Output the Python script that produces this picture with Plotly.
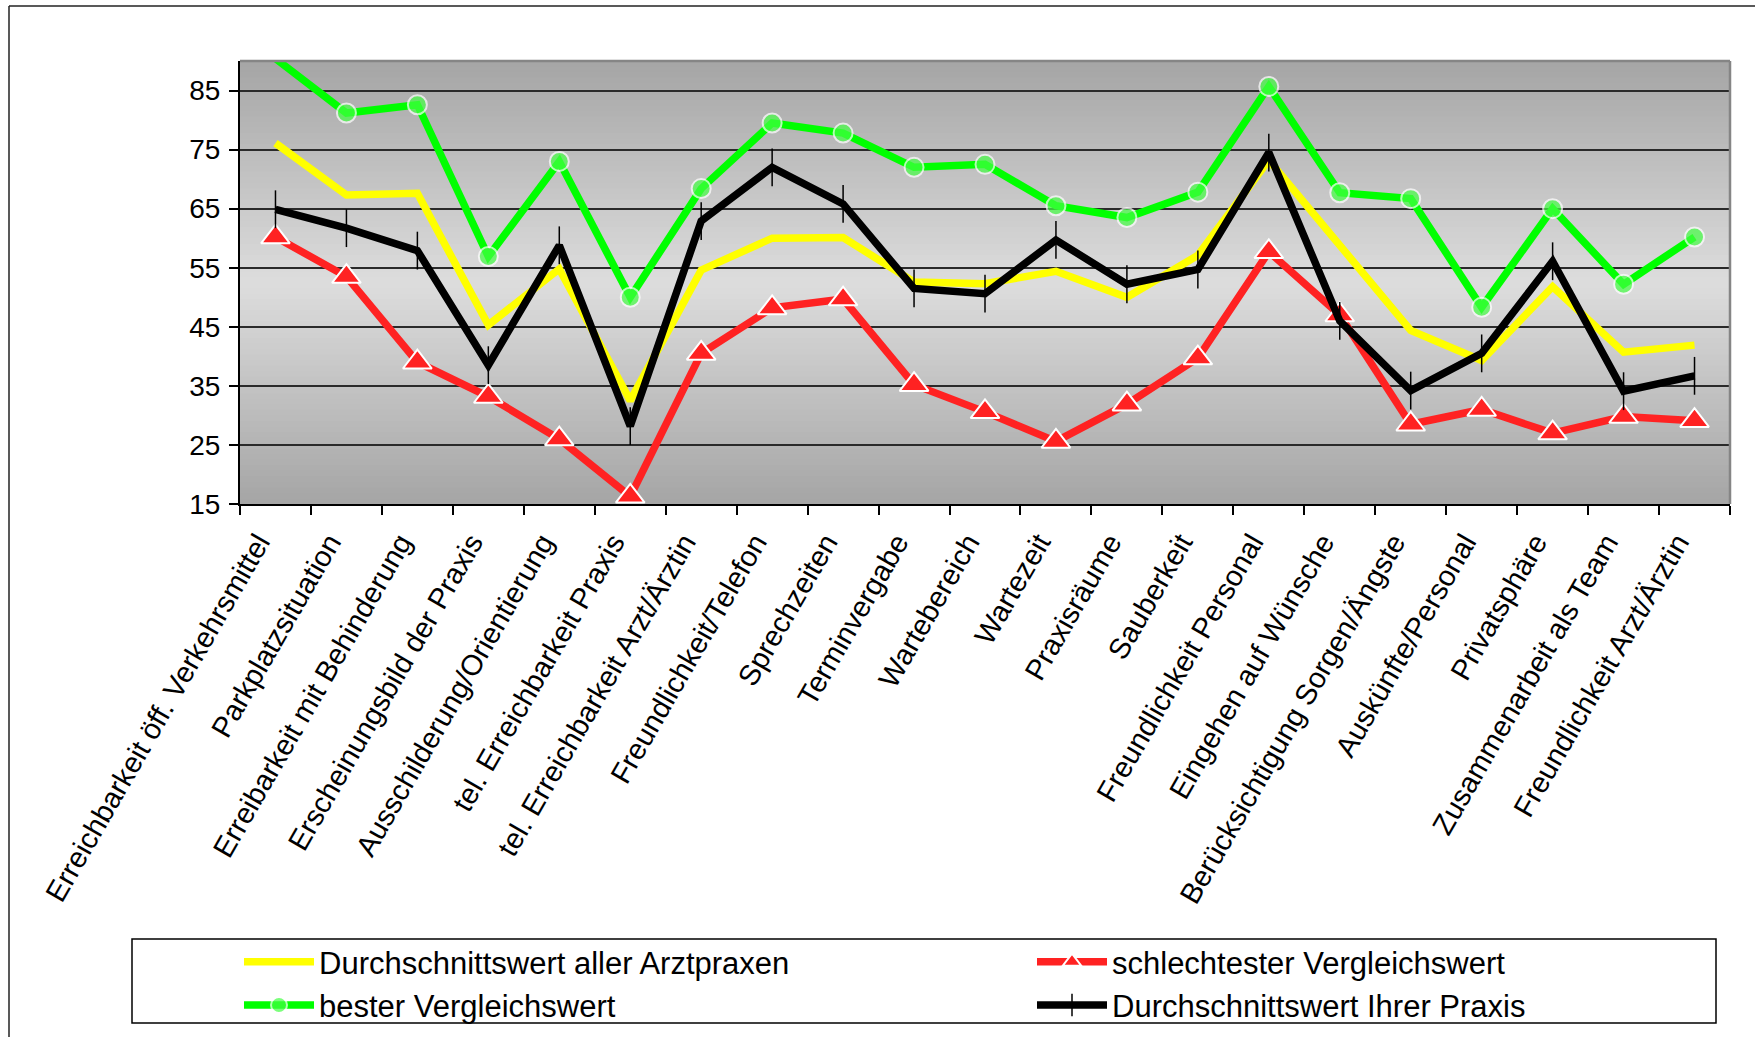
import plotly.graph_objects as go

categories = [
    "Erreichbarkeit öff. Verkehrsmittel", "Parkplatzsituation", "Erreibarkeit mit Behinderung",
    "Erscheinungsbild der Praxis", "Ausschilderung/Orientierung", "tel. Erreichbarkeit Praxis",
    "tel. Erreichbarkeit Arzt/Ärztin", "Freundlichkeit/Telefon", "Sprechzeiten", "Terminvergabe",
    "Wartebereich", "Wartezeit", "Praxisräume", "Sauberkeit", "Freundlichkeit Personal",
    "Eingehen auf Wünsche", "Berücksichtigung Sorgen/Ängste", "Auskünfte/Personal",
    "Privatsphäre", "Zusammenarbeit als Team", "Freundlichkeit Arzt/Ärztin",
]

avg_all = [76.1, 67.3, 67.6, 45.3, 54.8, 32.5, 54.6, 60.0, 60.1, 52.6, 52.3,
           54.4, 50.0, 57.1, 73.2, 58.6, 44.4, 39.3, 51.8, 40.7, 41.9]
worst = [60.2, 53.5, 39.0, 33.2, 26.0, 16.3, 40.5, 48.2, 49.7, 35.2, 30.6,
         25.6, 31.9, 39.7, 57.7, 47.0, 28.5, 31.0, 27.0, 29.8, 29.1]
best = [90.4, 81.2, 82.6, 56.9, 73.0, 50.0, 68.4, 79.5, 77.8, 72.0, 72.5,
        65.5, 63.5, 67.8, 85.7, 67.7, 66.7, 48.3, 65.0, 52.2, 60.2]
yours = [64.9, 61.7, 57.9, 38.5, 58.8, 28.2, 62.9, 72.0, 65.8, 51.5, 50.6,
         59.7, 52.2, 54.7, 74.5, 46.0, 34.2, 40.5, 56.1, 34.1, 36.7]

y_ticks = [15, 25, 35, 45, 55, 65, 75, 85]
y_range = [15, 90]

names = ["Durchschnittswert aller Arztpraxen", "schlechtester Vergleichswert",
         "bester Vergleichswert", "Durchschnittswert Ihrer Praxis"]

W, H = 1755, 1037
ML, MR, MT, MB = 240, 25, 61, 533
PW = W - ML - MR
PH = H - MT - MB


def px_x(px):
    return (px - ML) / PW


def px_y(py):
    return (H - MB - py) / PH


LW = 7.5
fig = go.Figure()

fig.add_trace(go.Scatter(x=categories, y=avg_all, name=names[0], mode="lines",
                         line=dict(color="#FFFF00", width=LW)))
fig.add_trace(go.Scatter(x=categories, y=worst, name=names[1], mode="lines+markers",
                         line=dict(color="#FF2222", width=LW),
                         marker=dict(symbol="triangle-up", size=25, color="#FF2222",
                                     line=dict(color="white", width=2))))
best_sizes = [0 if v > y_range[1] else 19 for v in best]
fig.add_trace(go.Scatter(x=categories, y=best, name=names[2], mode="lines+markers",
                         line=dict(color="#00FF00", width=LW),
                         marker=dict(symbol="circle", size=best_sizes, color="#44FF44",
                                     line=dict(color="white", width=2))))
fig.add_trace(go.Scatter(x=categories, y=yours, name=names[3], mode="lines+markers",
                         line=dict(color="#000000", width=LW),
                         marker=dict(symbol="line-ns", size=27,
                                     line=dict(color="black", width=1.5))))

shapes = []
# vertical gradient background of plot area
n = 80
for i in range(n):
    t = (i + 0.5) / n
    k = 1 - abs(t - 0.5) * 2
    c = int(round(165 + (221 - 165) * k))
    shapes.append(dict(type="rect", xref="x domain", yref="y domain",
                       x0=0, x1=1, y0=i / n, y1=(i + 1) / n + 0.002,
                       fillcolor=f"rgb({c},{c},{c})", line=dict(width=0), layer="below"))
# plot area border (top / right)
shapes.append(dict(type="line", xref="paper", yref="paper", x0=0, x1=1, y0=1, y1=1,
                   line=dict(color="#858585", width=2.5)))
shapes.append(dict(type="line", xref="paper", yref="paper", x0=1, x1=1, y0=0, y1=1,
                   line=dict(color="#858585", width=2.5)))
# chart border (visible parts: left & top)
shapes.append(dict(type="line", xref="paper", yref="paper", x0=px_x(9), x1=px_x(1760),
                   y0=px_y(6), y1=px_y(6), line=dict(color="#222222", width=1.5)))
shapes.append(dict(type="line", xref="paper", yref="paper", x0=px_x(9), x1=px_x(9),
                   y0=px_y(6), y1=px_y(1040), line=dict(color="#222222", width=1.5)))
# legend box
shapes.append(dict(type="rect", xref="paper", yref="paper", x0=px_x(132), x1=px_x(1716),
                   y0=px_y(1023), y1=px_y(939), line=dict(color="#000000", width=1.5),
                   fillcolor="rgba(0,0,0,0)"))

font_family = "Liberation Sans, Arial, sans-serif"

fig.update_layout(
    template="none",
    width=W, height=H,
    margin=dict(l=ML, r=MR, t=MT, b=MB, autoexpand=False),
    paper_bgcolor="white",
    plot_bgcolor="rgba(0,0,0,0)",
    font=dict(family=font_family, color="black", size=26),
    shapes=shapes,
    showlegend=True,
    legend=dict(orientation="h", x=px_x(239), y=px_y(935), xanchor="left", yanchor="top",
                entrywidth=708, entrywidthmode="pixels", itemwidth=70,
                font=dict(family=font_family, size=31, color="black"),
                bgcolor="rgba(0,0,0,0)", borderwidth=0, tracegroupgap=0),
    xaxis=dict(type="category", range=[-0.5, len(categories) - 0.5], tickson="boundaries",
               ticks="outside", ticklen=9, tickwidth=1.5, tickcolor="black",
               showline=True, linecolor="black", linewidth=2, showgrid=False,
               tickangle=-60, tickfont=dict(size=29, family=font_family, color="black"),
               ticklabelshift=-17, ticklabelstandoff=8,
               automargin=False, fixedrange=True),
    yaxis=dict(range=y_range, tickvals=y_ticks, ticktext=[str(v) for v in y_ticks],
               ticks="outside", ticklen=9, tickwidth=1.5, tickcolor="black",
               showline=True, linecolor="black", linewidth=2,
               showgrid=True, gridcolor="#2a2a2a", gridwidth=1.5, zeroline=False,
               tickfont=dict(size=28, family=font_family, color="black"),
               ticklabelstandoff=3, automargin=False, fixedrange=True),
)

fig.write_html("out.html", config={"displayModeBar": False},
               post_script="document.body.style.margin='0';document.body.style.overflow='hidden';")
